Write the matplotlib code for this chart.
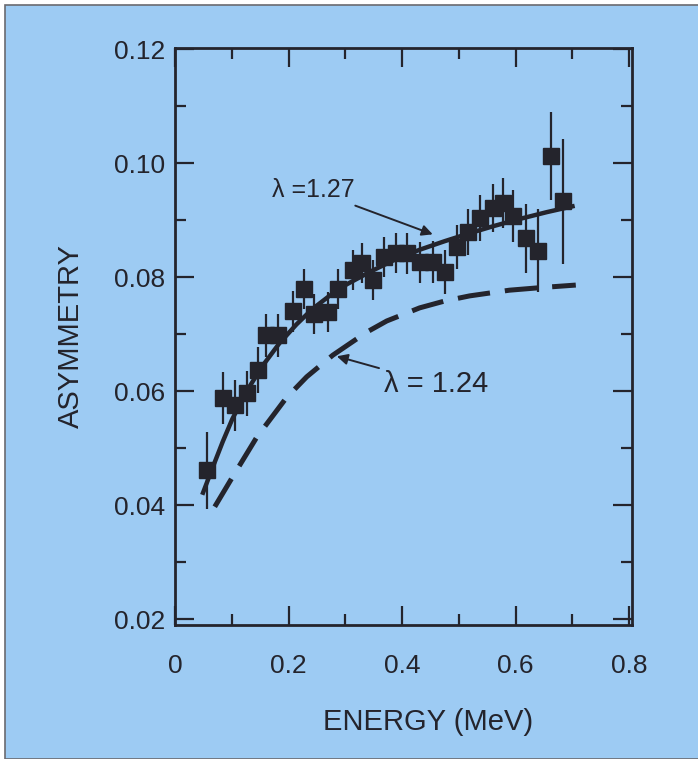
import matplotlib.pyplot as plt
from matplotlib.patches import Rectangle

plt.rcParams['font.family'] = ['Liberation Sans', 'DejaVu Sans']

# measured asymmetry vs electron energy
energy = [0.057, 0.084, 0.105, 0.126, 0.147, 0.161, 0.182, 0.207, 0.228, 0.244,
          0.270, 0.287, 0.313, 0.330, 0.348, 0.369, 0.390, 0.408, 0.431, 0.454,
          0.475, 0.496, 0.516, 0.537, 0.560, 0.577, 0.596, 0.619, 0.639, 0.663, 0.683]
asym = [0.0461, 0.0588, 0.0575, 0.0596, 0.0637, 0.0698, 0.0698, 0.0740, 0.0779, 0.0735,
        0.0739, 0.0779, 0.0812, 0.0825, 0.0795, 0.0835, 0.0842, 0.0842, 0.0826, 0.0826,
        0.0809, 0.0853, 0.0879, 0.0904, 0.0921, 0.0930, 0.0907, 0.0868, 0.0846, 0.1012, 0.0933]
asym_err = [0.0068, 0.0045, 0.0045, 0.0040, 0.0040, 0.0038, 0.0038, 0.0036, 0.0035, 0.0035,
            0.0035, 0.0035, 0.0035, 0.0035, 0.0035, 0.0035, 0.0035, 0.0036, 0.0036, 0.0037,
            0.0038, 0.0038, 0.0040, 0.0040, 0.0042, 0.0044, 0.0046, 0.0060, 0.0073, 0.0077, 0.0110]

# fitted curve, lambda = 1.27
fit_e = [0.048, 0.066, 0.084, 0.101, 0.127, 0.154, 0.184, 0.214, 0.242, 0.272, 0.302,
         0.343, 0.386, 0.431, 0.475, 0.519, 0.563, 0.607, 0.655, 0.704]
fit_a = [0.0418, 0.0465, 0.0511, 0.0551, 0.0601, 0.0644, 0.0684, 0.0717, 0.0744, 0.0767,
         0.0787, 0.0809, 0.0830, 0.0848, 0.0863, 0.0877, 0.0890, 0.0902, 0.0914, 0.0925]

# expected curve, lambda = 1.24
old_e = [0.070, 0.100, 0.144, 0.196, 0.232, 0.278, 0.337, 0.373, 0.431, 0.475, 0.519,
         0.589, 0.650, 0.706]
old_a = [0.0397, 0.0447, 0.0519, 0.0588, 0.0625, 0.0663, 0.0703, 0.0723, 0.0746, 0.0758,
         0.0767, 0.0777, 0.0782, 0.0786]

xticks = [0, 0.2, 0.4, 0.6, 0.8]
xticklabels = ['0', '0.2', '0.4', '0.6', '0.8']
yticks = [0.02, 0.04, 0.06, 0.08, 0.10, 0.12]
yticklabels = ['0.02', '0.04', '0.06', '0.08', '0.10', '0.12']

blue = '#9dcbf3'
ink = '#24242c'

fig = plt.figure(figsize=(6.98, 7.59), dpi=100, facecolor='white')
fig.patches.append(Rectangle((5 / 698, 0), 1, 1 - 5 / 759, transform=fig.transFigure,
                             facecolor=blue, edgecolor='#6a6a70', linewidth=1.2, zorder=-10))

ax = fig.add_axes([175 / 698, 134 / 759, 457 / 698, 577 / 759])
ax.set_facecolor(blue)

ax.errorbar(energy, asym, yerr=asym_err, fmt='s', color=ink, markersize=11.5,
            elinewidth=1.6, capsize=0, zorder=3)
ax.plot(fit_e, fit_a, '-', color=ink, linewidth=3.2, solid_capstyle='butt', zorder=2)
ax.plot(old_e, old_a, '--', color=ink, linewidth=3.6, dashes=(6.5, 3), zorder=2)

ax.annotate('λ =1.27', xy=(0.454, 0.0875), xytext=(0.170, 0.0953),
            fontsize=18, color=ink, va='center', ha='left',
            arrowprops=dict(arrowstyle='-|>', color=ink, lw=1.4, mutation_scale=16,
                            shrinkA=2, shrinkB=0))
ax.annotate('λ = 1.24', xy=(0.285, 0.0661), xytext=(0.369, 0.0612),
            fontsize=21, color=ink, va='center', ha='left',
            arrowprops=dict(arrowstyle='-|>', color=ink, lw=1.4, mutation_scale=16,
                            shrinkA=2, shrinkB=0))

ax.set_xlim(0, 0.805)
ax.set_ylim(0.01895, 0.1202)
ax.set_xticks(xticks)
ax.set_xticklabels(xticklabels)
ax.set_yticks(yticks)
ax.set_yticklabels(yticklabels)
ax.set_xticks([0.1, 0.3, 0.5, 0.7], minor=True)
ax.set_yticks([0.03, 0.05, 0.07, 0.09, 0.11], minor=True)
ax.tick_params(which='both', direction='in', top=True, right=True, color=ink,
               width=1.6, labelcolor=ink, labelsize=19)
ax.tick_params(which='major', length=14)
ax.tick_params(which='minor', length=8)
ax.tick_params(axis='x', pad=21)
ax.tick_params(axis='y', pad=7)
for s in ax.spines.values():
    s.set_linewidth(2)
    s.set_color(ink)

ax.set_xlabel('ENERGY (MeV)', fontsize=21, color=ink)
ax.set_ylabel('ASYMMETRY', fontsize=21, color=ink)
ax.xaxis.set_label_coords((428 - 175) / 457, -0.143)
ax.yaxis.set_label_coords((85 - 175) / 457, 0.5)

fig.savefig('out.png', dpi=100, facecolor='white')
